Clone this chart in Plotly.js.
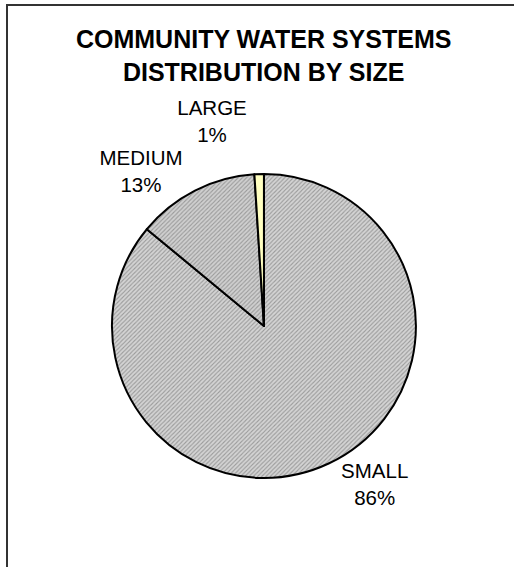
<!DOCTYPE html>
<html>
<head>
<meta charset="utf-8">
<script src="https://cdn.plot.ly/plotly-3.0.1.min.js"></script>
<style>
  html, body { margin: 0; padding: 0; background: #ffffff; }
  #chart { width: 514px; height: 567px; }
  #chart path.textline { display: none; }
</style>
</head>
<body>
<div id="chart"></div>
<script>
const categories = ["SMALL", "MEDIUM", "LARGE"];
const shares = [86, 13, 1];
const sliceColors = ["#d4d4d4", "#d0d0d0", "#ffffc0"];
const slicePatterns = ["/", "/", ""];
const titleLines = ["COMMUNITY WATER SYSTEMS", "DISTRIBUTION BY SIZE"];

const trace = {
  type: "pie",
  labels: categories,
  values: shares,
  sort: false,
  direction: "clockwise",
  rotation: 0,
  textinfo: "label+percent",
  textposition: "outside",
  texttemplate: "%{label}<br>%{percent:.0%}",
  hoverinfo: "none",
  showlegend: false,
  automargin: false,
  outsidetextfont: { family: "Liberation Sans, Arial, sans-serif", size: 20.5, color: "#000000" },
  marker: {
    colors: sliceColors,
    line: { color: "#000000", width: 2 },
    pattern: {
      shape: slicePatterns,
      fgcolor: "#9a9a9a",
      bgcolor: sliceColors,
      size: 3,
      solidity: 0.35
    }
  },
  domain: { x: [0.19, 0.837], y: [0.157, 0.693] }
};

const layout = {
  width: 514,
  height: 567,
  margin: { l: 0, r: 0, t: 0, b: 0 },
  paper_bgcolor: "#ffffff",
  title: {
    text: titleLines.join("<br>"),
    font: { family: "Liberation Sans, Arial, sans-serif", size: 25, color: "#000000", weight: "bold" },
    x: 0.513,
    xanchor: "center",
    y: 1 - 48 / 567,
    yanchor: "middle",
    yref: "container"
  },
  shapes: [{
    type: "rect",
    xref: "paper", yref: "paper",
    x0: 7 / 514, x1: 1.2,
    y0: -0.2, y1: 1 - 5 / 567,
    line: { color: "#333333", width: 2 },
    fillcolor: "rgba(0,0,0,0)"
  }]
};

Plotly.newPlot("chart", [trace], layout, { displayModeBar: false, staticPlot: true });
</script>
</body>
</html>
